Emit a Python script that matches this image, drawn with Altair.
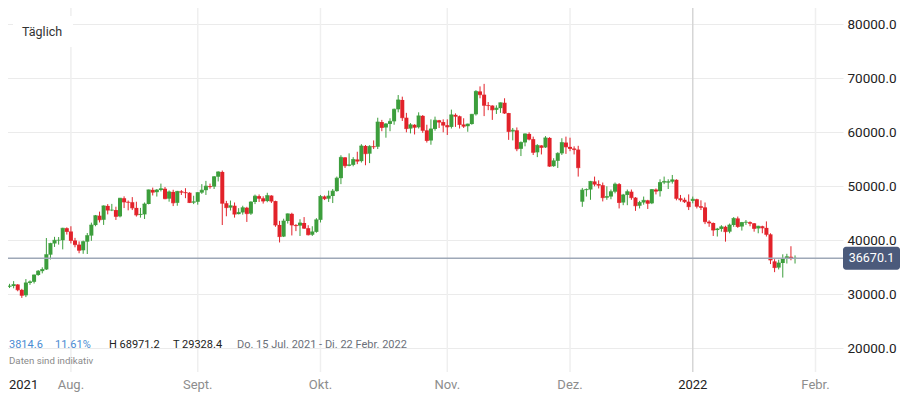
import altair as alt
import pandas as pd
import numpy as np

# ---------------- data (BTC daily candles) ----------------
opens = [
    32820, 31780, 31420, 31530, 31800, 30820, 29810, 32110, 32310, 33580, 34290, 34600, 37340, 39410, 40000, 40010, 42240,
    41630, 39970, 39200, 38150, 39750, 40870, 42820, 44560, 43800, 46370, 45590, 45600, 44430, 47790, 47100, 47050, 46000, 44700, 44800, 46720, 49340, 48910, 49320, 49550, 47710, 48960, 46940, 49060, 48900, 48810, 46990,
    47130, 48830, 49280, 50030, 49940, 51770, 52660, 46860, 46050, 46400, 44850, 45160, 46030, 44940, 47090, 48180, 47780, 47270, 48280, 47260, 42840, 40690, 43570, 44900, 42840, 42720, 43210, 42240, 41030, 41560,
    43790, 48120, 47710, 48200, 49110, 51510, 55360, 53810, 53970, 54970, 54660, 57470, 56040, 57400, 57320, 61900, 60890, 61550, 62030, 64260, 65990, 62700, 60690, 61390, 60930, 63040, 60360, 58480, 60620, 62230, 61890,
    61320, 61000, 63230, 62970, 61450, 61130, 61530, 63330, 67570, 66970, 65000, 64950, 64160, 64470, 65470, 63560, 60160, 60370, 56940, 58120, 59700, 58730, 56290, 57570, 57200, 58960, 53730, 54720, 56100, 58100,
    57300, 57000, 56800, 47150, 49300, 49400, 50900, 50400, 50200, 47900, 48100, 49000, 50400, 47000, 48400, 49000, 47900, 46400, 47000, 47400, 46850, 49400, 49100, 50700, 50700, 50850, 51200, 47770, 47500, 47150,
    47300, 47600, 46300, 46100, 43450, 43200, 41900, 42100, 42500, 41600, 42830, 44050, 42550, 43300, 43350, 43150, 42200, 42600, 42300, 41100, 36100, 34950, 35800, 36550, 36950, 36550,
]
highs = [
    33190, 32250, 31940, 32440, 31890, 31010, 32820, 32570, 33650, 34490, 35000, 40420, 39540, 40640, 40600, 42320, 42400,
    42600, 40450, 39800, 39950, 41350, 43270, 44690, 45310, 46460, 46700, 46740, 46220, 47850, 48140, 47370, 48000, 47140, 46000, 47000, 49380, 49760, 49500, 50500, 49870, 49230, 49360, 49150, 49300, 49650, 48900, 48250,
    48900, 50400, 51000, 50500, 51900, 52780, 52920, 47300, 47360, 47000, 45950, 46400, 46200, 47230, 48460, 48490, 48150, 48800, 48350, 47330, 43600, 44000, 44960, 45100, 42990, 43900, 44300, 42790, 42600, 44100,
    48400, 48300, 49200, 49500, 51800, 55750, 55400, 56100, 55400, 56400, 57800, 57650, 57600, 58500, 62700, 62300, 61700, 62600, 64400, 66900, 66600, 63600, 61700, 61500, 63700, 63200, 61400, 62400, 62900, 62300, 62400,
    62400, 64200, 63500, 63100, 62600, 61600, 63400, 67800, 68500, 68970, 65600, 65000, 65000, 65500, 66300, 63600, 60800, 60900, 58300, 59800, 60000, 59200, 57800, 57600, 59300, 59100, 55200, 56300, 58900, 59200,
    59000, 57400, 57500, 49700, 49600, 51000, 51800, 51100, 50700, 50000, 49400, 50700, 50600, 48600, 49400, 49400, 48000, 47300, 48100, 47500, 49500, 49600, 51300, 51800, 51300, 52100, 51300, 48400, 47900, 48500,
    48100, 47700, 47400, 47000, 43700, 43300, 42300, 42800, 42700, 43100, 44300, 44400, 43400, 43750, 43500, 43200, 42700, 42700, 43500, 41300, 36500, 36400, 37400, 37500, 38900, 37200,
]
lows = [
    31130, 31020, 31160, 31110, 30560, 29330, 29480, 31750, 32000, 33420, 33880, 34500, 36450, 38770, 39200, 38320, 41060,
    39420, 38700, 37600, 37500, 37460, 39900, 42600, 43300, 42850, 44800, 45400, 43770, 44250, 45970, 45550, 45600, 44390, 44200, 43950, 46650, 48300, 48100, 49050, 47600, 47150, 46340, 46400, 48400, 47800, 46900, 46700,
    46600, 48600, 48400, 49550, 49500, 50900, 42830, 44450, 45520, 44200, 44800, 44750, 43400, 44700, 46700, 47100, 46800, 47050, 46900, 42500, 39600, 40600, 43100, 40900, 41700, 40800, 42100, 40900, 40800, 41400,
    43300, 47450, 47100, 46900, 49000, 50400, 53400, 53700, 53700, 54100, 54400, 53900, 54300, 56900, 56900, 60200, 59000, 60200, 61400, 63700, 62100, 60000, 59800, 59600, 60700, 59900, 58100, 57700, 60300, 60800, 60000,
    59500, 60700, 61000, 60700, 60800, 60100, 61400, 63100, 66300, 63000, 64100, 62300, 63400, 63600, 63400, 58600, 58500, 56500, 55600, 57400, 58500, 55800, 55400, 55900, 57100, 53600, 53600, 53400, 55800, 56000,
    56500, 55900, 51800, 46200, 48100, 47500, 50000, 49600, 47200, 47500, 47600, 48700, 45900, 46500, 46500, 47500, 45450, 45900, 46600, 45800, 46700, 48500, 48100, 50400, 49500, 50500, 47400, 47150, 46900, 45600,
    46850, 45900, 45600, 43000, 42500, 40800, 40700, 41600, 39750, 41300, 42500, 42300, 41800, 42850, 42600, 41600, 41300, 41300, 40700, 35600, 34100, 34600, 33100, 35700, 36300, 35700,
]
closes = [
    31780, 31420, 31530, 31800, 30820, 29810, 32110, 32310, 33580, 34290, 34600, 37340, 39410, 40000, 40010, 42240, 41630,
    39970, 39200, 38150, 39750, 40870, 42820, 44560, 43800, 46370, 45590, 45600, 44430, 47790, 47100, 47050, 46000, 44700, 44800, 46720, 49340, 48910, 49320, 49550, 47710, 48960, 46940, 49060, 48900, 48810, 46990, 47130,
    48830, 49280, 50030, 49940, 51770, 52660, 46860, 46050, 46400, 44850, 45160, 46030, 44940, 47090, 48180, 47780, 47270, 48280, 47260, 42840, 40690, 43570, 44900, 42840, 42720, 43210, 42240, 41030, 41560, 43790,
    48120, 47710, 48200, 49110, 51510, 55360, 53810, 53970, 54970, 54660, 57470, 56040, 57400, 57320, 61900, 60890, 61550, 62030, 64260, 65990, 62700, 60690, 61390, 60930, 63040, 60360, 58480, 60620, 62230, 61890, 61320,
    61000, 63230, 62970, 61450, 61130, 61530, 63330, 67570, 66970, 65000, 64950, 64160, 64470, 65470, 63560, 60160, 60370, 56940, 58120, 59700, 58730, 56290, 57570, 57200, 58960, 53730, 54720, 56100, 58100, 57300,
    57000, 56800, 53450, 49300, 49400, 50900, 50400, 50200, 47900, 48100, 49000, 50400, 47000, 48400, 49000, 47900, 46400, 47000, 47400, 46850, 49400, 49100, 50700, 50900, 50850, 51200, 47770, 47500, 47150, 46230,
    47600, 46300, 46100, 43450, 43200, 41900, 42100, 42500, 41600, 42830, 44050, 42550, 43300, 43350, 43150, 42200, 42600, 42300, 41100, 36350, 34950, 35800, 36550, 36950, 36700, 36670,
]

# trading days (no candle on 25 Dec and 1 Jan)
all_days = pd.date_range("2021-07-15", "2022-01-27")
closed_days = ["2021-12-25", "2022-01-01"]
dates = [d for d in all_days.strftime("%Y-%m-%d") if d not in closed_days]

tick_dates = ["2021-08-01", "2021-09-01", "2021-10-01", "2021-11-01", "2021-12-01", "2022-01-02", "2022-02-01"]
tick_labels = ["Aug.", "Sept.", "Okt.", "Nov.", "Dez.", "2022", "Febr."]

last_price = 36670.1
y_ticks = [20000, 30000, 40000, 50000, 60000, 70000, 80000]

# ---------------- frames ----------------
n = len(dates)
assert len(opens) == len(highs) == len(lows) == len(closes) == n, (len(opens), len(highs), len(lows), len(closes), n)

df = pd.DataFrame({"slot": np.arange(n), "date": dates, "open": opens,
                   "high": highs, "low": lows, "close": closes})
df["dir"] = np.where(df["close"] >= df["open"], "up", "down")


def slot_of(d):
    if d in dates:
        return dates.index(d)
    return (n - 1) + (pd.Timestamp(d) - pd.Timestamp(dates[-1])).days


ticks_df = pd.DataFrame({"slot": [slot_of(d) for d in tick_dates], "label": tick_labels})
ticks_df["year"] = ticks_df["label"] == "2022"
price_df = pd.DataFrame({"price": [last_price], "label": [f"{last_price:.1f}"]})

GREEN = "#3c9e3c"
RED = "#e2222a"
FONT = "Roboto"
W, H = 843, 372

xs = alt.Scale(domain=[0.89, 204.5], nice=False, zero=False)
ys = alt.Scale(domain=[15611, 84500], nice=False, zero=False)
yax = alt.Axis(orient="right", values=y_ticks, format=".1f", grid=True,
               gridColor="#ebebeb", gridWidth=1, domain=False, ticks=False,
               labelPadding=4, labelFontSize=13.5, labelColor="#222222",
               labelFont=FONT, title=None)
color = alt.Color("dir:N", scale=alt.Scale(domain=["up", "down"], range=[GREEN, RED]), legend=None)

X = alt.X("slot:Q", scale=xs, axis=None)

vgrid = alt.Chart(ticks_df).mark_rule(strokeWidth=1.5).encode(
    x=X, y=alt.value(0), y2=alt.value(H),
    color=alt.condition("datum.year", alt.value("#d6d6d6"), alt.value("#efefef")),
)

month_text = alt.Chart(ticks_df).mark_text(fontSize=13, font=FONT, baseline="middle", align="center").encode(
    x=X, y=alt.value(385), text="label:N",
    color=alt.condition("datum.year", alt.value("#222222"), alt.value("#8d8d8d")),
)

wick = alt.Chart(df).mark_rule(strokeWidth=1).encode(
    x=X, y=alt.Y("low:Q", scale=ys, axis=yax), y2="high:Q", color=color)
body = alt.Chart(df).mark_bar(size=4).encode(
    x=X, y=alt.Y("open:Q", scale=ys, axis=yax), y2="close:Q", color=color)
flat = alt.Chart(df).mark_tick(orient="horizontal", size=4, thickness=1).encode(
    x=X, y=alt.Y("close:Q", scale=ys, axis=yax), color=color)

price_line = alt.Chart(price_df).mark_rule(strokeWidth=1.5, color="#9ea8b7").encode(
    y=alt.Y("price:Q", scale=ys, axis=yax), x=alt.value(0), x2=alt.value(W))
price_box = alt.Chart(price_df).mark_rect(color="#4b5a7b", cornerRadius=3, yOffset=-11.5, y2Offset=11.5).encode(
    y=alt.Y("price:Q", scale=ys, axis=yax), y2="price:Q", x=alt.value(843), x2=alt.value(900))
price_text = alt.Chart(price_df).mark_text(color="white", fontSize=12.5, font=FONT, align="center", baseline="middle").encode(
    y=alt.Y("price:Q", scale=ys, axis=yax), x=alt.value(871.5), text="label:N")

ann = pd.DataFrame({"k": [0]})


def label(txt, x, y, size, col, align="left"):
    return alt.Chart(ann).mark_text(text=txt, fontSize=size, font=FONT, color=col,
                                    align=align, baseline="middle").encode(x=alt.value(x), y=alt.value(y))


tag_box = alt.Chart(ann).mark_rect(color="white").encode(
    x=alt.value(13), x2=alt.value(73), y=alt.value(16), y2=alt.value(47))

layers = [
    vgrid, wick, body, flat, price_line, price_box, price_text, month_text,
    tag_box,
    label("Täglich", 22, 32, 12.5, "#333333"),
    label("2021", 9, 385, 13, "#222222"),
    label("3814.6", 9, 344.5, 11, "#4a8bd2"),
    label("11.61%", 55, 344.5, 11, "#4a8bd2"),
    label("H 68971.2", 109, 344.5, 11, "#222222"),
    label("T 29328.4", 173, 344.5, 11, "#222222"),
    label("Do. 15 Jul. 2021 - Di. 22 Febr. 2022", 237, 344.5, 11, "#6b7079"),
    label("Daten sind indikativ", 9, 361, 9.7, "#8a8a8a"),
]

# the SVG is kept at 892 px wide so that the page does not rescale it
chart = alt.layer(*layers).properties(
    width=W, height=H,
    autosize=alt.AutoSizeParams(type="none"),
    padding={"left": -8, "top": -8, "right": 57, "bottom": 22},
    background="white",
).configure_view(stroke=None)

chart.save("out.html", embed_options={"renderer": "svg", "actions": False})
